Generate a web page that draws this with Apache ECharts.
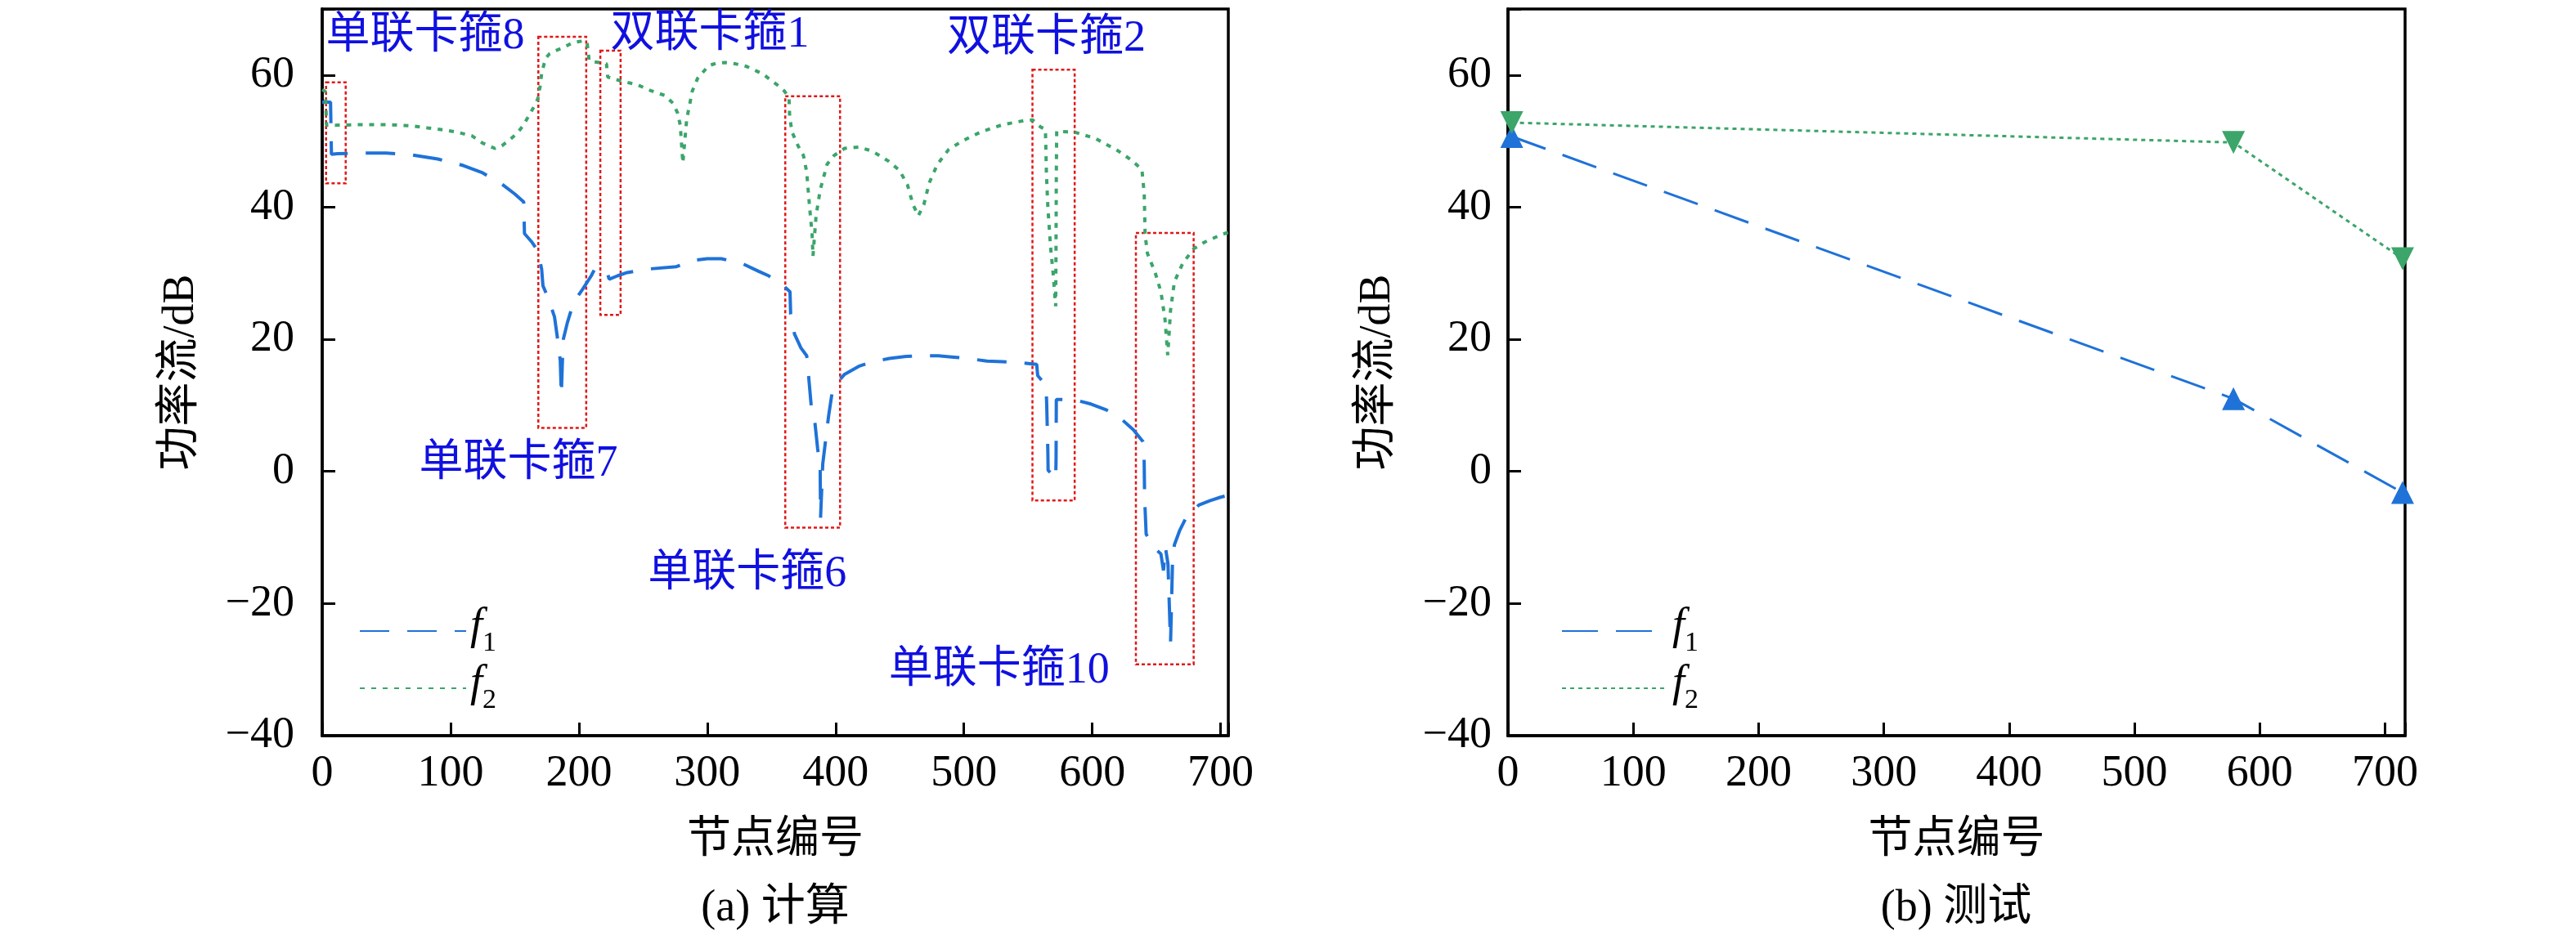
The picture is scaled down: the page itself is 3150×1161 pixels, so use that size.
<!DOCTYPE html>
<html>
<head>
<meta charset="utf-8">
<script src="https://cdn.jsdelivr.net/npm/echarts@6/dist/echarts.min.js"></script>
<style>
  html, body { margin: 0; padding: 0; background: #fff; }
  #calc { position: absolute; left: 0; top: 0; width: 1575px; height: 1161px; }
  #test { position: absolute; left: 1575px; top: 0; width: 1575px; height: 1161px; }
</style>
</head>
<body>
<div id="calc"></div>
<div id="test"></div>
<script>
// (a) calculated power flow along the pipe, [node, dB]
var f1Calc = [
    [0, 55.9], [6.5, 55.9], [7.2, 48.0], [12, 48.1], [30, 48.2], [50, 48.2], [70, 47.9],
    [90, 47.3], [110, 46.3], [125, 45.2], [140, 43.5], [150, 42.0], [157, 40.8], [157.6, 36.0],
    [163, 34.8], [168, 33.4], [171, 30.6], [172, 28.1], [176, 26.3], [181, 23.4], [184, 19.2],
    [185.5, 16.8], [186.3, 11.5], [187.3, 17.5], [188, 20.1], [191, 22.5], [194, 24.4],
    [198, 26.2], [203, 27.6], [209.6, 29.6], [212, 30.5], [221.5, 30.5], [223.6, 29.1],
    [230, 29.6], [237.6, 30.1], [252, 30.6], [276, 31.0], [288, 31.9], [300, 32.2], [311, 32.2],
    [327, 31.5], [340, 30.3], [348, 29.6], [356, 28.4], [360.5, 27.9], [364.5, 27.2], [365, 23.8],
    [368, 20.8], [373, 18.7], [377.5, 17.5], [379, 14.4], [381, 10.0], [384, 7.2], [386, 3.5],
    [388, 0.6], [388.3, -7.0], [390, 1.1], [392.4, 5.0], [394.5, 8.3], [397.5, 12.2], [402, 13.6],
    [407, 14.7], [418, 15.9], [428.6, 16.6], [442, 17.1], [455, 17.4], [466, 17.5], [480, 17.5],
    [492, 17.3], [503, 17.1], [518, 16.7], [530, 16.6], [541, 16.5], [556.7, 16.2], [557.5, 14.5],
    [564, 13.0], [564.5, 10.2], [565.4, 3.1], [565.6, 0.2], [571.5, -1.2], [571.8, 2.0],
    [572, 10.9], [572.5, 11.0], [585, 10.9], [599, 10.2], [610, 9.4], [620, 8.4], [632, 6.3],
    [639.5, 4.5], [640.3, 3.8], [640.8, -4.0], [642, -9.5], [648, -11.5], [653.5, -12.5],
    [655.5, -15], [657, -11.5], [659, -14], [661, -26], [662.5, -14], [664, -11.1], [668, -9],
    [672.6, -7.2], [678, -6.0], [683, -5.1], [692, -4.4], [700, -3.9], [706, -3.6]
];
var f2Calc = [
    [0, 57.8], [2.5, 57.5], [3.4, 52.4], [10, 52.4], [30, 52.5], [50, 52.5], [70, 52.3],
    [82, 52.0], [95, 51.7], [104, 51.4], [116.6, 50.8], [125, 49.7], [134.4, 48.9], [140, 49.3],
    [146, 50.2], [152, 51.2], [156.7, 52.4], [160, 53.5], [165, 55.2], [168, 56.4], [170, 58.5],
    [171, 60.3], [174, 62.5], [177, 63.2], [182, 63.7], [188.5, 64.2], [195, 64.9], [204.5, 65.2],
    [206.5, 64.7], [208, 62.2], [212, 62.0], [216, 61.9], [221.5, 61.7], [222.5, 59.7],
    [231, 59.2], [246, 58.5], [256.5, 57.6], [267, 56.9], [273.5, 55.7], [277, 54.2], [279, 52.4],
    [280, 49.5], [281, 46.7], [282.5, 50.0], [284, 53.3], [288.4, 57.6], [292.5, 59.5],
    [301, 61.4], [307, 61.8], [314, 61.9], [322, 61.7], [330.7, 61.3], [343, 60.2], [356, 58.3],
    [360, 57.6], [363.7, 56.6], [364.2, 53.8], [366, 51.4], [371, 49.2], [375, 47.8],
    [377.5, 45.3], [379.6, 40.4], [381.7, 35.9], [382.4, 32.6], [384.8, 38.7], [388, 42.6],
    [393.4, 46.5], [398.7, 47.8], [407, 48.9], [418, 49.1], [428.4, 48.5], [441, 47.0],
    [449.7, 45.6], [456, 43.4], [460.3, 40.4], [464.5, 38.7], [468.8, 40.4], [473, 43.7],
    [479.4, 46.5], [488, 48.7], [498.5, 50.0], [513.4, 51.4], [530.4, 52.5], [547, 53.1],
    [553.6, 53.2], [560, 52.1], [563.5, 51.8], [564.3, 45], [565.4, 40], [567.5, 34],
    [569.5, 30], [570.7, 27], [571.5, 25], [571.8, 35], [572, 45], [572.3, 51.5], [580, 51.4],
    [585.4, 51.4], [602.5, 50.4], [619.5, 48.6], [630, 47.2], [638.7, 45.7], [640.5, 42],
    [641.2, 35.8], [643, 33], [649, 30.1], [653.5, 27.2], [656.7, 23], [658.8, 17.6],
    [661, 24.4], [664, 28.7], [670.5, 31.5], [679, 33.7], [687.5, 34.7], [700, 35.8], [706, 36.2]
];

// red boxes around the clamps: [x1, x2, y1, y2]
var clampBoxes = [
    [3, 18.3, 43.6, 58.9],
    [168.4, 205.7, 6.6, 65.8],
    [216.7, 232.5, 23.7, 63.7],
    [360.8, 403.5, -8.5, 56.8],
    [553.4, 586.3, -4.4, 60.8],
    [634, 679, -29.2, 36.1]
];
var clampNames = ['单联卡箍8', '双联卡箍1', '双联卡箍2', '单联卡箍7', '单联卡箍6', '单联卡箍10'];
var clampNamePos = [[80.3, 65.8], [302, 66.1], [564.3, 65.5], [152.9, 1.1], [331.2, -15.6], [527.4, -30.2]];

// (b) measured
var testNodes = [3, 579, 714];
var f1Test = [50.7, 11.0, -3.2];
var f2Test = [52.8, 49.8, 32.2];

var yTicks = [-40, -20, 0, 20, 40, 60];

var serif = 'Liberation Serif, Noto Sans CJK SC, serif';
var blue = '#1f72d8';
var green = '#3ba56a';

function minusFmt(v) {
    if (yTicks.indexOf(v) < 0) return '';
    return v < 0 ? '\u2212' + (-v) : String(v);
}
function hundredFmt(v) {
    return v % 100 === 0 ? String(v) : '';
}

function makeAxes(xMax, yLabelMargin, yNameGap) {
    var axisLine = { onZero: false, lineStyle: { color: '#000', width: 3.5 } };
    var axisTick = { inside: true, length: 16, lineStyle: { color: '#000', width: 3 } };
    return {
        xAxis: {
            type: 'value', min: 0, max: xMax, interval: 100,
            name: '节点编号', nameLocation: 'middle', nameGap: 102,
            nameTextStyle: { fontFamily: serif, fontSize: 54, color: '#000' },
            axisLine: axisLine, axisTick: axisTick, splitLine: { show: false },
            axisLabel: { fontFamily: serif, fontSize: 54, color: '#000', margin: 20, formatter: hundredFmt }
        },
        yAxis: {
            type: 'value', min: -40, max: 70, interval: 20,
            name: '功率流/dB', nameLocation: 'middle', nameGap: yNameGap,
            nameTextStyle: { fontFamily: serif, fontSize: 54, color: '#000' },
            axisLine: axisLine, axisTick: axisTick, splitLine: { show: false },
            axisLabel: { fontFamily: serif, fontSize: 54, color: '#000', margin: yLabelMargin, formatter: minusFmt }
        }
    };
}

function legendFor(left, top) {
    return {
        orient: 'vertical', left: left, top: top,
        itemWidth: 130, itemHeight: 14, itemGap: 6,
        data: ['f1', 'f2'],
        itemStyle: { opacity: 0 },
        formatter: function (n) { return '{i|f}{s|' + n.slice(1) + '}'; },
        textStyle: {
            rich: {
                i: { fontFamily: serif, fontStyle: 'italic', fontSize: 54, color: '#000', verticalAlign: 'bottom', padding: [0, 0, 10, 0] },
                s: { fontFamily: serif, fontSize: 34, color: '#000', verticalAlign: 'bottom' }
            }
        }
    };
}

function caption(x, text) {
    return [{
        type: 'text', x: x, y: 1085, silent: true,
        style: { text: text, font: '54px ' + serif, fill: '#000', textAlign: 'center' }
    }];
}

// ---- (a) 计算
var axesA = makeAxes(706, 34, 145);
var optionA = {
    animation: false,
    textStyle: { fontFamily: serif },
    grid: { left: 394, top: 11, width: 1108, height: 889, show: true, borderColor: '#000', borderWidth: 3.5 },
    xAxis: axesA.xAxis,
    yAxis: axesA.yAxis,
    legend: legendFor(434, 735),
    graphic: caption(948, '(a) 计算'),
    series: [{
        name: 'f1', type: 'line', data: f1Calc, showSymbol: false, symbol: 'none',
        lineStyle: { color: blue, width: 4, type: [36, 22] },
        itemStyle: { color: blue },
        markPoint: {
            symbol: 'circle', symbolSize: 1, silent: true,
            itemStyle: { color: 'rgba(0,0,0,0)' },
            label: { show: true, position: 'inside', formatter: '{b}', fontFamily: serif, fontSize: 54, color: '#1010e0' },
            data: clampNames.map(function (n, i) { return { name: n, coord: clampNamePos[i] }; })
        }
    }, {
        name: 'f2', type: 'line', data: f2Calc, showSymbol: false, symbol: 'none',
        lineStyle: { color: green, width: 4, type: [6, 8] },
        itemStyle: { color: green },
        markArea: {
            silent: true,
            itemStyle: { color: 'rgba(0,0,0,0)', borderColor: '#e01818', borderWidth: 2.5, borderType: [4, 3] },
            data: clampBoxes.map(function (b) { return [{ coord: [b[0], b[3]] }, { coord: [b[1], b[2]] }]; })
        }
    }]
};

// ---- (b) 测试
var axesB = makeAxes(716, 20, 132);
var optionB = {
    animation: false,
    textStyle: { fontFamily: serif },
    grid: { left: 269, top: 11, width: 1097, height: 889, show: true, borderColor: '#000', borderWidth: 3.5 },
    xAxis: axesB.xAxis,
    yAxis: axesB.yAxis,
    legend: legendFor(329, 735),
    graphic: caption(817, '(b) 测试'),
    series: [{
        name: 'f1', type: 'line',
        data: testNodes.map(function (x, i) { return [x, f1Test[i]]; }),
        symbol: 'triangle', symbolSize: 28,
        lineStyle: { color: blue, width: 3, type: [44, 22] },
        itemStyle: { color: blue }
    }, {
        name: 'f2', type: 'line',
        data: testNodes.map(function (x, i) { return [x, f2Test[i]]; }),
        symbol: 'triangle', symbolRotate: 180, symbolSize: 28,
        lineStyle: { color: green, width: 3, type: [5, 5] },
        itemStyle: { color: green }
    }]
};

var chartA = echarts.init(document.getElementById('calc'));
chartA.setOption(optionA);

var chartB = echarts.init(document.getElementById('test'));
chartB.setOption(optionB);
</script>
</body>
</html>
